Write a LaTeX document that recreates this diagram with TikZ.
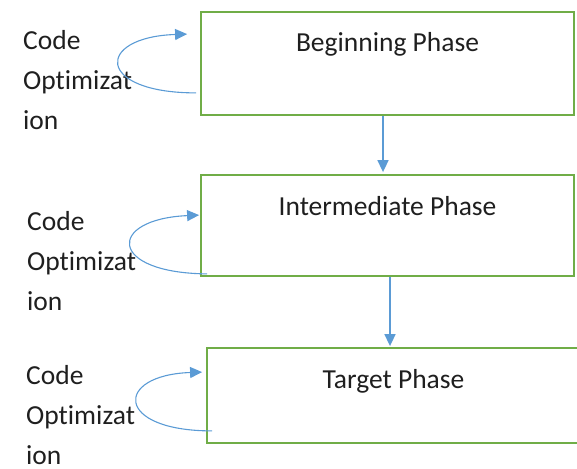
\documentclass[tikz,border=0pt]{standalone}
\usepackage{fontspec}
\setmainfont{Carlito}[Ligatures=CommonOff]
\usepackage{xcolor}
\usepackage{tikz}
\usetikzlibrary{arrows.meta,calc}
\definecolor{PhaseGreen}{HTML}{70AD47}
\definecolor{FlowBlue}{HTML}{5B9BD5}
\definecolor{PhaseInk}{HTML}{1F1F1F}

\begin{document}
\begin{tikzpicture}[x=1pt,y=-1pt,
  phase/.style={draw=PhaseGreen,line width=1.8pt,minimum width=373pt,inner sep=0pt,text height=40pt,text=PhaseInk,font=\fontsize{27.5}{40}\selectfont},
  optlabel/.style={anchor=base west,align=left,inner sep=0pt,text=PhaseInk,font=\fontsize{27.5}{40}\selectfont},
  flow/.style={FlowBlue,line width=1.6pt,-{Triangle[length=12pt,width=11pt]}},
  optloop/.style={FlowBlue,line width=1.1pt,-{Triangle[length=12pt,width=11pt]}}]
\useasboundingbox (0,0) rectangle (577,468);
\foreach \n/\x/\y/\d/\lab in {1/387.5/63.5/63/Beginning Phase,2/387.5/225.5/61/Intermediate Phase,3/393.5/395.5/55/Target Phase} {
  \node[phase,text depth=\d pt] (p\n) at (\x,\y) {\lab};
}
\foreach \n/\x/\y in {1/23/129,2/27/310,3/26/464} {
  \node[optlabel] (opt\n) at (\x,\y) {Code\\Optimizat\\ion};
}
\draw[flow] ($(p1.south)+(-4.5,0)$) -- ($(p2.north)+(-4.5,-2)$);
\draw[flow] ($(p2.south)+(2.5,0)$) -- ($(p3.north)+(-3.5,-1)$);
% each phase loops back into itself
\draw[optloop] ($(p1.south west)+(-4,-23)$) .. controls +(-101,0) and +(-92,3) .. ($(p1.north west)+(-13,23)$);
\draw[optloop] ($(p2.south west)+(7,-3)$) .. controls +(-100,-1) and +(-92,4) .. ($(p2.north west)+(-1,41)$);
\draw[optloop] ($(p3.south west)+(6,-13)$) .. controls +(-98,0) and +(-88,3) .. ($(p3.north west)+(-4,25)$);
\end{tikzpicture}
\end{document}
